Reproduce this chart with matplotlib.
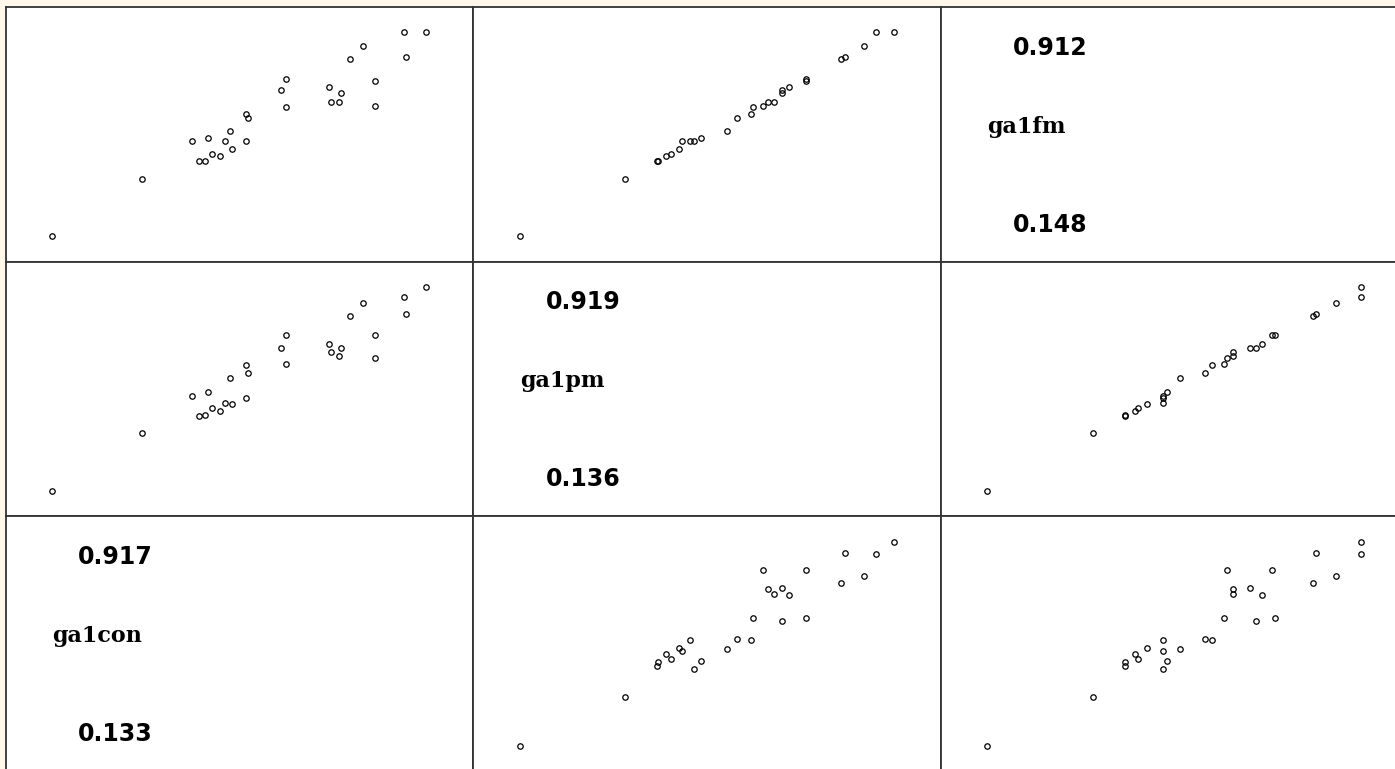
import matplotlib
matplotlib.use('Agg')
import matplotlib.pyplot as plt

# one value per subject, same order in every list
ga1fm = [0.148, 0.364, 0.429, 0.429, 0.449, 0.456, 0.475, 0.506, 0.506, 0.506,
         0.515, 0.541, 0.592, 0.607, 0.632, 0.637, 0.650, 0.650, 0.684, 0.697,
         0.709, 0.730, 0.736, 0.813, 0.820, 0.860, 0.912, 0.912]
ga1pm = [0.136, 0.357, 0.424, 0.426, 0.442, 0.453, 0.470, 0.500, 0.475, 0.493,
         0.515, 0.569, 0.591, 0.620, 0.625, 0.645, 0.668, 0.655, 0.686, 0.686,
         0.700, 0.736, 0.735, 0.809, 0.816, 0.857, 0.881, 0.919]
ga1con = [0.133, 0.322, 0.441, 0.453, 0.485, 0.467, 0.510, 0.426, 0.496, 0.540,
          0.460, 0.506, 0.543, 0.540, 0.623, 0.809, 0.718, 0.735, 0.739, 0.613,
          0.714, 0.809, 0.623, 0.757, 0.875, 0.784, 0.870, 0.917]

COL_ORDER = ['ga1con', 'ga1pm', 'ga1fm']
ROW_ORDER = ['ga1fm', 'ga1pm', 'ga1con']

W, H = 1395, 769
LEFT, TOP = 5.5, 7.0
CELL_W, CELL_H = 467.5, 254.7
PAD = 0.125


def lims(v):
	lo, hi = min(v), max(v)
	r = hi - lo
	return lo - PAD * r, hi + PAD * r


def main():
	data = {'ga1fm': ga1fm, 'ga1pm': ga1pm, 'ga1con': ga1con}

	fig = plt.figure(figsize=(W / 100, H / 100), dpi=100)
	fig.patch.set_facecolor('#fff8ea')

	for i, yname in enumerate(ROW_ORDER):
		for j, xname in enumerate(COL_ORDER):
			x0 = (LEFT + j * CELL_W) / W
			y0 = 1 - (TOP + (i + 1) * CELL_H) / H
			ax = fig.add_axes([x0, y0, CELL_W / W, CELL_H / H])
			ax.set_facecolor('white')
			for s in ax.spines.values():
				s.set_linewidth(1.3)
				s.set_color('#333333')
			ax.set_xticks([])
			ax.set_yticks([])

			#diagonal: variable name with its max and min
			if xname == yname:
				v = data[xname]
				ax.text(0.155, 0.84, '%.3f' % max(v), transform=ax.transAxes,
						fontsize=17, fontweight='bold', family='DejaVu Sans',
						ha='left', va='center')
				ax.text(0.1, 0.53, xname, transform=ax.transAxes,
						fontsize=16, fontweight='bold', family='DejaVu Serif',
						ha='left', va='center')
				ax.text(0.155, 0.145, '%.3f' % min(v), transform=ax.transAxes,
						fontsize=17, fontweight='bold', family='DejaVu Sans',
						ha='left', va='center')
				continue

			ax.plot(data[xname], data[yname], 'o', markersize=3.9,
					markerfacecolor='none', markeredgecolor='black',
					markeredgewidth=0.9)
			ax.set_xlim(*lims(data[xname]))
			ax.set_ylim(*lims(data[yname]))

	plt.savefig('out.png', dpi=100, facecolor=fig.get_facecolor())


if __name__ == "__main__":
	main()
